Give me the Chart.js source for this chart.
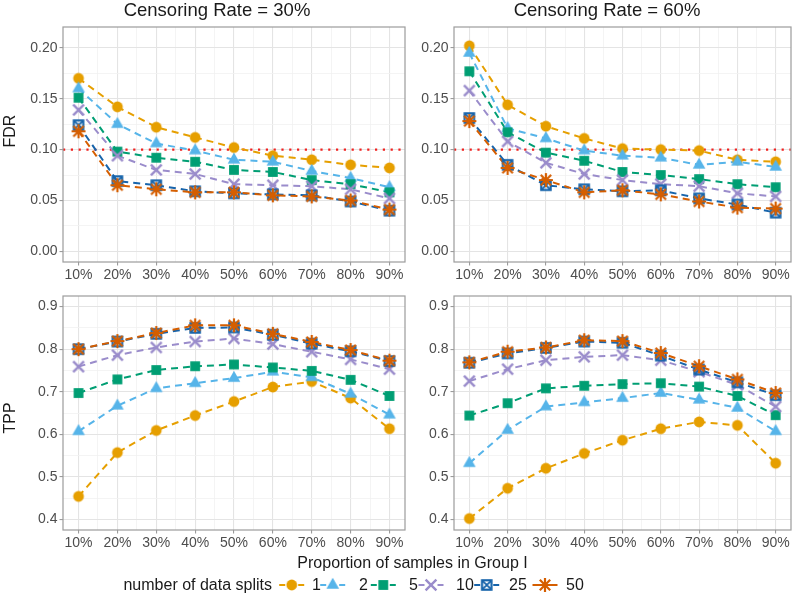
<!DOCTYPE html>
<html>
<head>
<meta charset="utf-8">
<script src="https://cdn.jsdelivr.net/npm/chart.js@4.4.1/dist/chart.umd.min.js"></script>
<style>
html,body{margin:0;padding:0;background:#fff;}
#wrap{position:relative;width:800px;height:606px;overflow:hidden;background:#fff;font-family:'Liberation Sans',Arial,Helvetica,sans-serif;}
#wrap canvas{position:absolute;left:0;top:0;}
.t{position:absolute;white-space:nowrap;line-height:1;color:#1a1a1a;}
</style>
</head>
<body>
<div id="wrap">
  <canvas id="c1" width="800" height="606"></canvas>
  <canvas id="c2" width="800" height="606"></canvas>
  <canvas id="c3" width="800" height="606"></canvas>
  <canvas id="c4" width="800" height="606"></canvas>
  <canvas id="leg" width="800" height="606"></canvas>
</div>
<script>
// ---------------- DATA ----------------
const proportions = [0.1, 0.2, 0.3, 0.4, 0.5, 0.6, 0.7, 0.8, 0.9];
const xTickLabels = ['10%', '20%', '30%', '40%', '50%', '60%', '70%', '80%', '90%'];
const splitLabels = ['1', '2', '5', '10', '25', '50'];
const panelTitles = ['Censoring Rate = 30%', 'Censoring Rate = 60%'];

const fdrTicks = [0, 0.05, 0.10, 0.15, 0.20];
const fdrTickLabels = ['0.00', '0.05', '0.10', '0.15', '0.20'];
const tppTicks = [0.4, 0.5, 0.6, 0.7, 0.8, 0.9];
const tppTickLabels = ['0.4', '0.5', '0.6', '0.7', '0.8', '0.9'];
const fdrThreshold = 0.10;

// FDR, censoring 30%
const fdr30_s1  = [0.170, 0.142, 0.122, 0.112, 0.102, 0.094, 0.090, 0.085, 0.082];
const fdr30_s2  = [0.160, 0.125, 0.106, 0.099, 0.090, 0.088, 0.079, 0.072, 0.063];
const fdr30_s5  = [0.151, 0.098, 0.092, 0.088, 0.080, 0.078, 0.070, 0.066, 0.058];
const fdr30_s10 = [0.139, 0.094, 0.080, 0.076, 0.066, 0.065, 0.064, 0.061, 0.052];
const fdr30_s25 = [0.124, 0.069, 0.065, 0.059, 0.057, 0.056, 0.055, 0.049, 0.040];
const fdr30_s50 = [0.118, 0.065, 0.061, 0.058, 0.058, 0.055, 0.054, 0.050, 0.041];
// FDR, censoring 60%
const fdr60_s1  = [0.202, 0.144, 0.123, 0.111, 0.101, 0.100, 0.099, 0.090, 0.088];
const fdr60_s2  = [0.195, 0.121, 0.111, 0.099, 0.094, 0.092, 0.085, 0.088, 0.083];
const fdr60_s5  = [0.177, 0.117, 0.097, 0.089, 0.078, 0.075, 0.071, 0.066, 0.063];
const fdr60_s10 = [0.158, 0.108, 0.087, 0.076, 0.070, 0.066, 0.064, 0.057, 0.054];
const fdr60_s25 = [0.131, 0.085, 0.065, 0.061, 0.059, 0.060, 0.052, 0.046, 0.038];
const fdr60_s50 = [0.128, 0.082, 0.070, 0.058, 0.060, 0.056, 0.049, 0.043, 0.042];
// TPP, censoring 30%
const tpp30_s1  = [0.454, 0.557, 0.609, 0.644, 0.677, 0.711, 0.724, 0.685, 0.613];
const tpp30_s2  = [0.607, 0.667, 0.708, 0.720, 0.732, 0.747, 0.734, 0.695, 0.646];
const tpp30_s5  = [0.697, 0.729, 0.751, 0.760, 0.764, 0.757, 0.749, 0.728, 0.690];
const tpp30_s10 = [0.759, 0.786, 0.804, 0.818, 0.825, 0.812, 0.794, 0.776, 0.753];
const tpp30_s25 = [0.800, 0.818, 0.836, 0.850, 0.851, 0.834, 0.813, 0.795, 0.772];
const tpp30_s50 = [0.800, 0.819, 0.838, 0.856, 0.856, 0.836, 0.817, 0.798, 0.773];
// TPP, censoring 60%
const tpp60_s1  = [0.402, 0.473, 0.520, 0.555, 0.586, 0.613, 0.629, 0.621, 0.532];
const tpp60_s2  = [0.532, 0.610, 0.665, 0.675, 0.685, 0.697, 0.681, 0.662, 0.607];
const tpp60_s5  = [0.644, 0.673, 0.708, 0.714, 0.718, 0.720, 0.712, 0.690, 0.645];
const tpp60_s10 = [0.725, 0.753, 0.774, 0.782, 0.786, 0.774, 0.747, 0.716, 0.665];
const tpp60_s25 = [0.768, 0.790, 0.803, 0.818, 0.815, 0.785, 0.752, 0.722, 0.692];
const tpp60_s50 = [0.769, 0.794, 0.804, 0.821, 0.819, 0.791, 0.760, 0.729, 0.697];

// ---------------- STYLE ----------------
const FONT = "'Liberation Sans', Arial, Helvetica, sans-serif";
const seriesColors = ['#E69F00', '#56B4E9', '#009E73', '#9A8CCB', '#1764AB', '#D55E00'];
const seriesShapes = ['circle', 'triangle', 'square', 'cross', 'boxcross', 'asterisk'];
const GRID_MAJOR = '#E4E4E4', GRID_MINOR = '#F1F1F1', BORDER = '#9C9C9C', TICKTXT = '#4D4D4D';

function makeMarker(shape, color) {
  const c = document.createElement('canvas');
  const s = 18; c.width = s; c.height = s;
  const g = c.getContext('2d'); const m = s / 2;
  g.fillStyle = color; g.strokeStyle = color; g.lineCap = 'butt';
  g.beginPath();
  if (shape === 'circle') { g.arc(m, m, 5.4, 0, Math.PI * 2); g.fill(); }
  else if (shape === 'triangle') {
    const R = 7.3;
    g.moveTo(m, m - R); g.lineTo(m + R * 0.866, m + R / 2); g.lineTo(m - R * 0.866, m + R / 2);
    g.closePath(); g.fill();
  }
  else if (shape === 'square') { g.fillRect(m - 4.9, m - 4.9, 9.8, 9.8); }
  else if (shape === 'cross') {
    const r = 5.4; g.lineWidth = 2.4;
    g.moveTo(m - r, m - r); g.lineTo(m + r, m + r); g.moveTo(m + r, m - r); g.lineTo(m - r, m + r); g.stroke();
  }
  else if (shape === 'boxcross') {
    const r = 4.7; g.lineWidth = 2.2;
    g.strokeRect(m - r, m - r, 2 * r, 2 * r);
    g.beginPath(); g.moveTo(m - r, m - r); g.lineTo(m + r, m + r); g.moveTo(m + r, m - r); g.lineTo(m - r, m + r);
    g.lineWidth = 1.8; g.stroke();
  }
  else if (shape === 'asterisk') {
    const r = 7, d = 5.2; g.lineWidth = 2.2;
    g.moveTo(m - r, m); g.lineTo(m + r, m); g.moveTo(m, m - r); g.lineTo(m, m + r);
    g.moveTo(m - d, m - d); g.lineTo(m + d, m + d); g.moveTo(m + d, m - d); g.lineTo(m - d, m + d);
    g.stroke();
  }
  return c;
}
const markers = seriesShapes.map((s, i) => makeMarker(s, seriesColors[i]));

function near(a, b) { return Math.abs(a - b) < 1e-9; }
function minorBetween(majors, lo, hi) {
  const out = [];
  const step = majors[1] - majors[0];
  const cands = [majors[0] - step / 2];
  for (let i = 0; i < majors.length; i++) cands.push(majors[i] + step / 2);
  cands.forEach(v => { if (v > lo && v < hi) out.push(+v.toFixed(6)); });
  return out;
}

function makePanel(canvasId, area, series, yMin, yMax, yMajor, yLabels, threshold) {
  const xMin = 0.06, xMax = 0.94;
  const xMinor = minorBetween(proportions, xMin, xMax);
  const yMinor = minorBetween(yMajor, yMin, yMax);
  const xAll = proportions.concat(xMinor).sort((a, b) => a - b);
  const yAll = yMajor.concat(yMinor).sort((a, b) => a - b);
  const isMajX = v => proportions.some(p => near(p, v));
  const isMajY = v => yMajor.some(p => near(p, v));

  const datasets = [];
  series.forEach((vals, i) => {
    const pts = proportions.map((p, j) => ({ x: p, y: vals[j] }));
    datasets.push({
      data: pts, borderColor: seriesColors[i], borderWidth: 2, borderDash: [7, 5],
      pointRadius: 0, pointHoverRadius: 0, fill: false, tension: 0, order: 100 + (5 - i)
    });
    datasets.push({
      data: pts, showLine: false, pointStyle: markers[i], pointRadius: 8, pointHoverRadius: 8,
      borderColor: seriesColors[i], backgroundColor: seriesColors[i], order: 5 - i
    });
  });

  const YW = 45, XH = 30;
  const tickFont = { family: FONT, size: 14, lineHeight: 1.2 };

  const thresholdPlugin = {
    id: 'thr',
    beforeDatasetsDraw(chart) {
      if (threshold === null) return;
      const a = chart.chartArea, y = chart.scales.y.getPixelForValue(threshold);
      const ctx = chart.ctx; ctx.save();
      ctx.strokeStyle = '#F0201E'; ctx.lineWidth = 2.2; ctx.setLineDash([2.2, 5.6]);
      ctx.beginPath(); ctx.moveTo(a.left, y); ctx.lineTo(a.right, y); ctx.stroke(); ctx.restore();
    }
  };
  const borderPlugin = {
    id: 'panelBorder',
    afterDraw(chart) {
      const a = chart.chartArea, ctx = chart.ctx; ctx.save();
      ctx.strokeStyle = BORDER; ctx.lineWidth = 1.2; ctx.setLineDash([]);
      ctx.strokeRect(a.left, a.top, a.right - a.left, a.bottom - a.top); ctx.restore();
    }
  };

  return new Chart(document.getElementById(canvasId), {
    type: 'line',
    data: { datasets },
    options: {
      responsive: false, animation: false, devicePixelRatio: 1,
      layout: { padding: { left: area.L - YW, top: area.T, right: 800 - area.R, bottom: 606 - area.B - XH } },
      plugins: { legend: { display: false }, title: { display: false }, tooltip: { enabled: false } },
      events: [],
      scales: {
        x: {
          type: 'linear', min: xMin, max: xMax,
          afterBuildTicks: s => { s.ticks = xAll.map(v => ({ value: v })); },
          afterFit: s => { s.height = XH; },
          ticks: {
            autoSkip: false, maxRotation: 0, minRotation: 0, padding: 1, color: TICKTXT, font: tickFont,
            callback: v => { const k = proportions.findIndex(p => near(p, v)); return k >= 0 ? xTickLabels[k] : ''; }
          },
          grid: {
            color: c => (c.tick && isMajX(c.tick.value)) ? GRID_MAJOR : GRID_MINOR,
            lineWidth: c => (c.tick && isMajX(c.tick.value)) ? 1.1 : 0.8,
            tickColor: c => (c.tick && isMajX(c.tick.value)) ? BORDER : 'rgba(0,0,0,0)',
            tickLength: 3.5, tickWidth: 1.1, drawTicks: true
          },
          border: { display: false }
        },
        y: {
          type: 'linear', min: yMin, max: yMax,
          afterBuildTicks: s => { s.ticks = yAll.map(v => ({ value: v })); },
          afterFit: s => { s.width = YW; },
          ticks: {
            autoSkip: false, padding: 2, color: TICKTXT, font: tickFont,
            callback: v => { const k = yMajor.findIndex(p => near(p, v)); return k >= 0 ? yLabels[k] : ''; }
          },
          grid: {
            color: c => (c.tick && isMajY(c.tick.value)) ? GRID_MAJOR : GRID_MINOR,
            lineWidth: c => (c.tick && isMajY(c.tick.value)) ? 1.1 : 0.8,
            tickColor: c => (c.tick && isMajY(c.tick.value)) ? BORDER : 'rgba(0,0,0,0)',
            tickLength: 3.5, tickWidth: 1.1, drawTicks: true
          },
          border: { display: false }
        }
      }
    },
    plugins: [thresholdPlugin, borderPlugin]
  });
}

const FDR_MIN = -0.0105, FDR_MAX = 0.2205, TPP_MIN = 0.375, TPP_MAX = 0.925;
makePanel('c1', { L: 63, T: 27, R: 405, B: 262 },
  [fdr30_s1, fdr30_s2, fdr30_s5, fdr30_s10, fdr30_s25, fdr30_s50], FDR_MIN, FDR_MAX, fdrTicks, fdrTickLabels, fdrThreshold);
makePanel('c2', { L: 454, T: 27, R: 798, B: 262 },
  [fdr60_s1, fdr60_s2, fdr60_s5, fdr60_s10, fdr60_s25, fdr60_s50], FDR_MIN, FDR_MAX, fdrTicks, fdrTickLabels, fdrThreshold);
makePanel('c3', { L: 63, T: 296, R: 405, B: 530 },
  [tpp30_s1, tpp30_s2, tpp30_s5, tpp30_s10, tpp30_s25, tpp30_s50], TPP_MIN, TPP_MAX, tppTicks, tppTickLabels, null);
makePanel('c4', { L: 454, T: 296, R: 798, B: 530 },
  [tpp60_s1, tpp60_s2, tpp60_s5, tpp60_s10, tpp60_s25, tpp60_s50], TPP_MIN, TPP_MAX, tppTicks, tppTickLabels, null);

// ---------------- TEXT (HTML) ----------------
const wrap = document.getElementById('wrap');
function addText(txt, opts) {
  const d = document.createElement('div');
  d.className = 't'; d.textContent = txt;
  const fs = opts.size;
  d.style.fontSize = fs + 'px';
  if (opts.color) d.style.color = opts.color;
  const top = opts.baseline - 0.8465 * fs;
  if (opts.rotate) {
    d.style.left = (opts.cx - 100) + 'px'; d.style.width = '200px'; d.style.textAlign = 'center';
    d.style.top = (opts.cy - fs / 2) + 'px'; d.style.height = fs + 'px';
    d.style.transform = 'rotate(-90deg)';
  } else if (opts.align === 'center') {
    d.style.left = (opts.x - 250) + 'px'; d.style.width = '500px'; d.style.textAlign = 'center'; d.style.top = top + 'px';
  } else if (opts.align === 'right') {
    d.style.right = (800 - opts.x) + 'px'; d.style.textAlign = 'right'; d.style.top = top + 'px';
  } else {
    d.style.left = opts.x + 'px'; d.style.top = top + 'px';
  }
  wrap.appendChild(d);
}
addText(panelTitles[0], { size: 18.5, x: 217, baseline: 16.8, align: 'center' });
addText(panelTitles[1], { size: 18.5, x: 607, baseline: 16.8, align: 'center' });
addText('FDR', { size: 16, cx: 9.5, cy: 131, rotate: true });
addText('TPP', { size: 16, cx: 9.5, cy: 418, rotate: true });
addText('Proportion of samples in Group I', { size: 16, x: 412.5, baseline: 568.5, align: 'center' });

// ---------------- LEGEND ----------------
const legendTitle = 'number of data splits';
const legMarkerX = [291.7, 332.7, 383.3, 431, 486.7, 545];
const legLabelX = [312, 359, 409, 456, 509, 566];
const legY = 585;
addText(legendTitle, { size: 16, x: 272, baseline: 591, align: 'right' });
splitLabels.forEach((lab, i) => addText(lab, { size: 16, x: legLabelX[i], baseline: 591 }));
const lg = document.getElementById('leg').getContext('2d');
splitLabels.forEach((lab, i) => {
  const cx = legMarkerX[i];
  lg.save();
  lg.strokeStyle = seriesColors[i]; lg.lineWidth = 2;
  lg.beginPath();
  lg.moveTo(cx - 12.5, legY); lg.lineTo(cx - 6.5, legY);
  lg.moveTo(cx + 6.5, legY); lg.lineTo(cx + 12.5, legY);
  lg.stroke();
  const m = markers[i];
  lg.drawImage(m, cx - m.width / 2, legY - m.height / 2);
  lg.restore();
});
</script>
</body>
</html>
